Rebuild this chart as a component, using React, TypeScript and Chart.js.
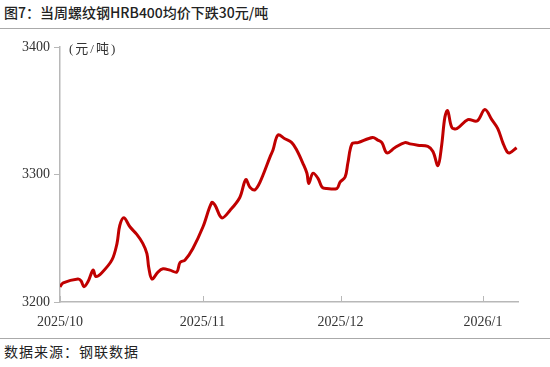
import React, { useEffect, useRef } from "react";
import { Chart, registerables } from "chart.js";

Chart.register(...registerables);

// Day index counted from 2025-10-01
const days = [
  0, 0.7, 3.9, 4.6, 5.2, 6.1, 7.2, 7.8, 9.1, 11.3, 12.4, 13.0, 13.9, 15.2, 16.7, 18.0, 18.9, 19.3, 20.0,
  21.3, 22.4, 23.9, 25.4, 26.1, 27.2, 28.9, 31.1, 33.0, 33.7, 35.2, 37.0, 39.1, 40.4, 41.3, 42.4, 43.5,
  45.7, 46.3, 47.4, 48.9, 50.4, 51.5, 52.8, 53.7, 54.1, 55.0, 56.1, 57.0, 58.0, 60.2, 60.9, 62.0, 62.6,
  63.5, 64.8, 68.0, 69.1, 70.0, 71.1, 72.8, 75.0, 76.1, 77.8, 80.0, 81.1, 82.2, 83.0, 83.7, 84.3, 85.2,
  86.3, 88.7, 90.7, 92.4, 93.9, 95.2, 96.3, 97.2, 97.8, 99.3,
];
const prices = [
  3212, 3215, 3218, 3216.5, 3212, 3216, 3225, 3220, 3223, 3233, 3246, 3260, 3266, 3259, 3253, 3246, 3238, 3227, 3218,
  3223.5, 3226, 3225, 3223.5, 3231, 3233, 3242, 3259, 3278, 3276, 3266, 3272, 3282, 3296, 3290, 3288, 3294,
  3314, 3319, 3331, 3328, 3325, 3319, 3309, 3301, 3293, 3301, 3297, 3290, 3289, 3289, 3294, 3298, 3309,
  3324, 3325, 3329, 3327, 3325, 3317, 3321, 3325, 3324, 3323, 3322, 3318, 3307, 3323, 3345, 3350, 3337,
  3336, 3343, 3342, 3351, 3343, 3336, 3325, 3318, 3317, 3321,
];
const tickDays = [0, 31, 61, 92];
const tickLabels = ["2025/10", "2025/11", "2025/12", "2026/1"];
const yTicks = [3200, 3300, 3400];

const titleText = "图7：当周螺纹钢HRB400均价下跌30元/吨";
const sourceText = "数据来源：钢联数据";
const unitText = "(元/吨)";

export default function App() {
  const ref = useRef<HTMLCanvasElement | null>(null);

  useEffect(() => {
    document.body.style.margin = "0";
    const canvas = ref.current;
    if (!canvas) return;

    const extras = {
      id: "extras",
      afterDraw(chart: any) {
        const ctx = chart.ctx;
        const xs = chart.scales.x;
        const area = chart.chartArea;
        ctx.save();
        ctx.strokeStyle = "#b8b8b8";
        ctx.lineWidth = 1;
        tickDays.forEach((d) => {
          const px = Math.round(xs.getPixelForValue(d)) + 0.5;
          ctx.beginPath();
          ctx.moveTo(px, area.bottom);
          ctx.lineTo(px, area.bottom - 6);
          ctx.stroke();
        });
        ctx.fillStyle = "#333";
        ctx.font = '13px "Liberation Serif", "Noto Sans CJK SC"';
        (ctx as any).letterSpacing = "2px";
        ctx.textBaseline = "middle";
        ctx.textAlign = "left";
        ctx.fillText(unitText, area.left + 9, area.top + 3);
        ctx.restore();
      },
    };

    const chart = new Chart(canvas, {
      type: "line",
      data: {
        datasets: [
          {
            data: days.map((d, i) => ({ x: d, y: prices[i] })),
            borderColor: "#C00000",
            borderWidth: 3,
            pointRadius: 0,
            tension: 0.35,
            fill: false,
          },
        ],
      },
      options: {
        animation: false,
        responsive: false,
        maintainAspectRatio: false,
        layout: { padding: { left: 0, top: 47, right: 32, bottom: 33 } },
        plugins: { legend: { display: false }, tooltip: { enabled: false }, title: { display: false } },
        scales: {
          x: {
            type: "linear",
            min: 0,
            max: 99.6,
            afterBuildTicks: (scale: any) => {
              scale.ticks = tickDays.map((v) => ({ value: v }));
            },
            afterFit: (scale: any) => {
              scale.height = 32;
            },
            ticks: {
              autoSkip: false,
              maxRotation: 0,
              padding: 12,
              color: "#333",
              font: { family: '"Liberation Serif"', size: 14 },
              callback: (v: any) => {
                const i = tickDays.indexOf(Number(v));
                return i >= 0 ? tickLabels[i] : "";
              },
            },
            grid: { drawOnChartArea: false, drawTicks: false },
            border: { color: "#b8b8b8", width: 1.5 },
          },
          y: {
            type: "linear",
            min: 3200,
            max: 3400,
            afterBuildTicks: (scale: any) => {
              scale.ticks = yTicks.map((v) => ({ value: v }));
            },
            afterFit: (scale: any) => {
              scale.width = 60;
            },
            ticks: {
              padding: 4,
              color: "#333",
              font: { family: '"Liberation Serif"', size: 14 },
              callback: (v: any) => String(v),
            },
            grid: { drawOnChartArea: false, drawTicks: true, tickLength: 6, color: "#b8b8b8" },
            border: { color: "#b8b8b8", width: 1.5 },
          },
        },
      },
      plugins: [extras],
    });
    return () => chart.destroy();
  }, []);

  return (
    <div style={{ position: "relative", width: 550, height: 367, background: "#fff", overflow: "hidden" }}>
      <div
        style={{
          position: "absolute",
          left: 4,
          top: 3,
          fontFamily: '"Noto Sans CJK SC", sans-serif',
          fontSize: 14,
          fontWeight: 500,
          color: "#222",
          lineHeight: "18px",
          whiteSpace: "nowrap",
        }}
      >
        {titleText}
      </div>
      <div style={{ position: "absolute", left: 0, top: 28, width: 550, height: 1, background: "#aaa" }} />
      <div style={{ position: "absolute", left: 0, top: 338, width: 550, height: 1, background: "#aaa" }} />
      <div
        style={{
          position: "absolute",
          left: 4,
          top: 342,
          fontFamily: '"Noto Sans CJK SC", sans-serif',
          fontSize: 14,
          color: "#222",
          lineHeight: "18px",
          letterSpacing: 1,
          whiteSpace: "nowrap",
        }}
      >
        {sourceText}
      </div>
      <canvas ref={ref} width={550} height={367} style={{ position: "absolute", left: 0, top: 0 }} />
    </div>
  );
}
